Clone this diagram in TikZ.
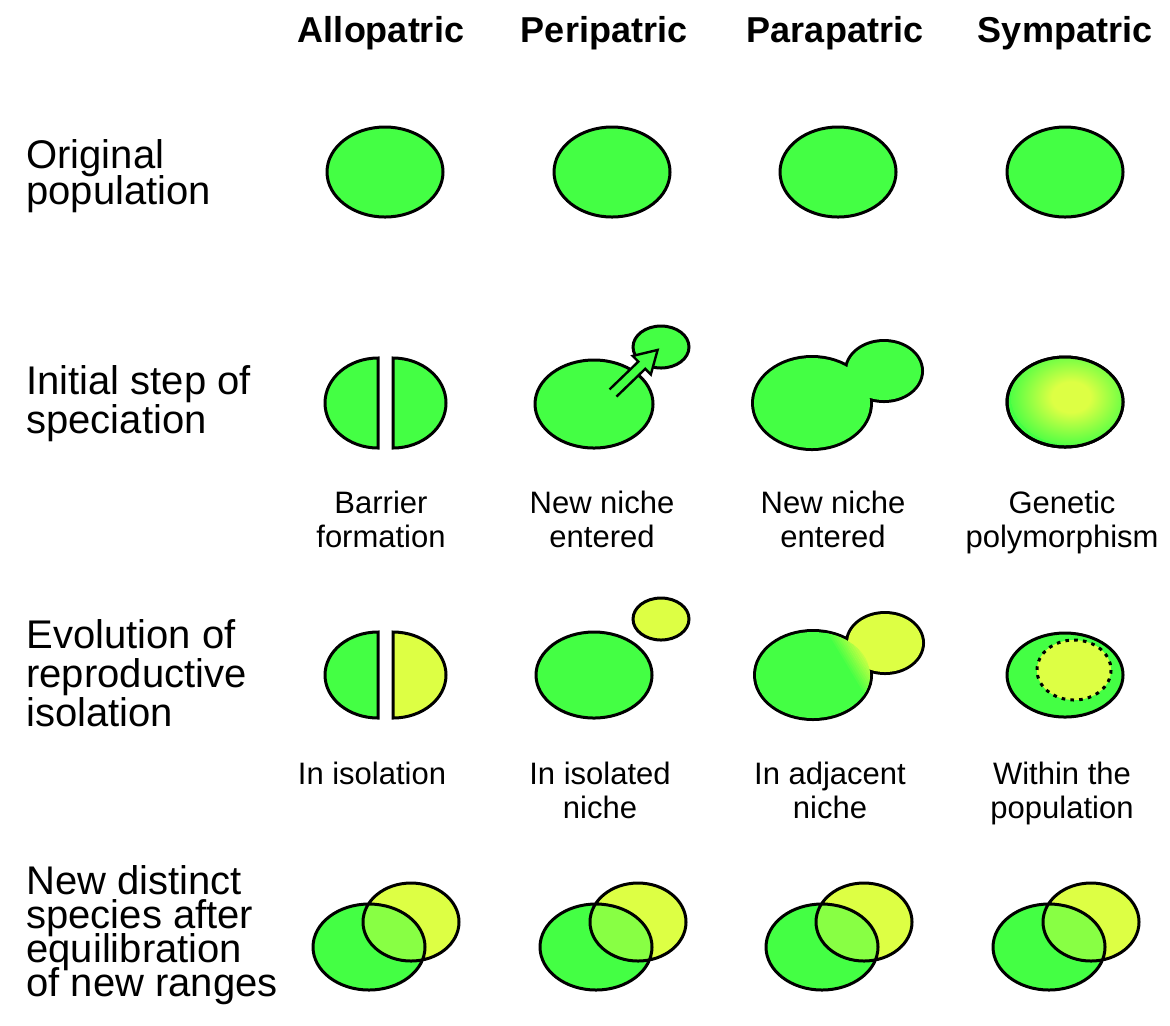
\documentclass[tikz,border=0pt]{standalone}
\usepackage{fontspec}
\setmainfont{Liberation Sans}
\usepackage{xcolor}
\usepackage{tikz}
\definecolor{popgreen}{RGB}{68,255,68}
\definecolor{popyellow}{RGB}{221,255,68}
\definecolor{popmix}{RGB}{136,255,68}
\pgfdeclareradialshading{polymorph}{\pgfpoint{0bp}{0bp}}{color(0bp)=(popyellow); color(8bp)=(popyellow); color(27bp)=(popgreen); color(50bp)=(popgreen)}

\begin{document}
\begin{tikzpicture}[x=0.5pt, y=-0.5pt,
    pop/.style={fill=popgreen, draw=black, line width=1.5pt},
    popy/.style={fill=popyellow, draw=black, line width=1.5pt},
    colhead/.style={font=\fontsize{18}{20}\selectfont\bfseries, anchor=base},
    rowlabel/.style={font={\fontsize{20}{18}\selectfont\lineskiplimit=-20pt}, align=left, anchor=base west, inner sep=0pt},
    note/.style={font={\fontsize{15.5}{17}\selectfont\lineskiplimit=-20pt}, align=center, anchor=base, inner sep=0pt}]
  \useasboundingbox (0,0) rectangle (1170,1025);

  % column titles
  \node[colhead] (allo) at (381,42) {Allopatric};
  \node[colhead] (peri) at (604,42) {Peripatric};
  \node[colhead] (para) at (835,42) {Parapatric};
  \node[colhead] (symp) at (1065,42) {Sympatric};

  % row titles (anchored on the last line)
  \node[rowlabel] (orig) at (26,204) {Original\\population};
  \node[rowlabel, font={\fontsize{20}{19.5}\selectfont\lineskiplimit=-20pt}] (init) at (26,433) {Initial step of\\speciation};
  \node[rowlabel, font={\fontsize{20}{19.5}\selectfont\lineskiplimit=-20pt}] (evol) at (26,726) {Evolution of\\reproductive\\isolation};
  \node[rowlabel, font={\fontsize{20}{17}\selectfont\lineskiplimit=-20pt}] (newsp) at (26,996) {New distinct\\species after\\equilibration\\of new ranges};

  % original population
  \foreach \cx in {385,612,838,1065}
    \draw[pop] (\cx,172) ellipse [x radius=58, y radius=45];

  % allopatric: barrier, then isolation
  \draw[pop] (378,448) arc[start angle=90, end angle=270, x radius=53, y radius=45] -- cycle;
  \draw[pop] (393,358) arc[start angle=-90, end angle=90, x radius=53, y radius=45] -- cycle;
  \draw[pop] (378,718) arc[start angle=90, end angle=270, x radius=53, y radius=43] -- cycle;
  \draw[popy] (393,632) arc[start angle=-90, end angle=90, x radius=53, y radius=43] -- cycle;

  % peripatric: small niche entered
  \draw[pop] (594,404) ellipse [x radius=59, y radius=44];
  \draw[pop] (661,347) ellipse [x radius=28, y radius=21];
  \begin{scope}[shift={(613,393)}, rotate=44]
    \fill[popgreen] (0,-5) -- (40,-5) -- (40,-13) -- (62,0) -- (40,13) -- (40,5) -- (0,5) -- cycle;
    \draw[line width=1.2pt] (0,-5) -- (40,-5) -- (40,-13) -- (62,0) -- (40,13) -- (40,5) -- (0,5);
  \end{scope}
  \draw[pop] (594,675) ellipse [x radius=58, y radius=43];
  \draw[popy] (661,619) ellipse [x radius=28, y radius=21];

  % parapatric: adjacent niche
  \draw[line width=3pt] (812,403) ellipse [x radius=58, y radius=45] (884,371) ellipse [x radius=37, y radius=29];
  \fill[popgreen] (812,403) ellipse [x radius=58, y radius=45] (884,371) ellipse [x radius=37, y radius=29];
  \draw[line width=3pt] (813,675) ellipse [x radius=57, y radius=43] (885,643) ellipse [x radius=37, y radius=29];
  \fill[popgreen] (813,675) ellipse [x radius=57, y radius=43];
  \fill[popyellow] (885,643) ellipse [x radius=37, y radius=29];
  \begin{scope}
    \clip (813,675) ellipse [x radius=57, y radius=43];
    \begin{scope}[shift={(855,657)}, rotate=31]
      \foreach \k in {0,...,12} {
        \pgfmathsetmacro\shadepc{\k*100/12}
        \fill[popyellow!\shadepc!popgreen] (-13+2*\k,-90) rectangle (-10.8+2*\k,90);
      }
      \fill[popyellow] (12,-90) rectangle (100,90);
    \end{scope}
  \end{scope}

  % sympatric: polymorphism inside the range
  \draw[pop] (1065,402) ellipse [x radius=58, y radius=45];
  \begin{scope}
    \clip (1065,402) ellipse [x radius=58, y radius=45];
    \shade[shading=polymorph] (1071,397) ellipse [x radius=60, y radius=48];
  \end{scope}
  \draw[line width=1.5pt] (1065,402) ellipse [x radius=58, y radius=45];
  \draw[pop] (1065,675) ellipse [x radius=58, y radius=42];
  \draw[popy, dash pattern=on 1.8pt off 2.6pt] (1074,670) ellipse [x radius=37, y radius=30];

  % captions (anchored on the last line)
  \node[note] (barrier) at (381,547) {Barrier\\formation};
  \node[note] (nicheperi) at (602,547) {New niche\\entered};
  \node[note] (nichepara) at (833,547) {New niche\\entered};
  \node[note] (poly) at (1062,547) {Genetic\\polymorphism};
  \node[note] (isol) at (372,784) {In isolation};
  \node[note] (isoniche) at (600,818) {In isolated\\niche};
  \node[note] (adjniche) at (830,818) {In adjacent\\niche};
  \node[note] (within) at (1062,818) {Within the\\population};

  % new species, ranges overlapping
  \foreach \dx in {0,227,453,680} {
    \fill[popyellow] (411+\dx,922) ellipse [x radius=48, y radius=39];
    \fill[popgreen] (369+\dx,947) ellipse [x radius=56, y radius=43];
    \begin{scope}
      \clip (369+\dx,947) ellipse [x radius=56, y radius=43];
      \fill[popmix] (411+\dx,922) ellipse [x radius=48, y radius=39];
    \end{scope}
    \draw[line width=1.5pt] (369+\dx,947) ellipse [x radius=56, y radius=43] (411+\dx,922) ellipse [x radius=48, y radius=39];
  }
\end{tikzpicture}
\end{document}
